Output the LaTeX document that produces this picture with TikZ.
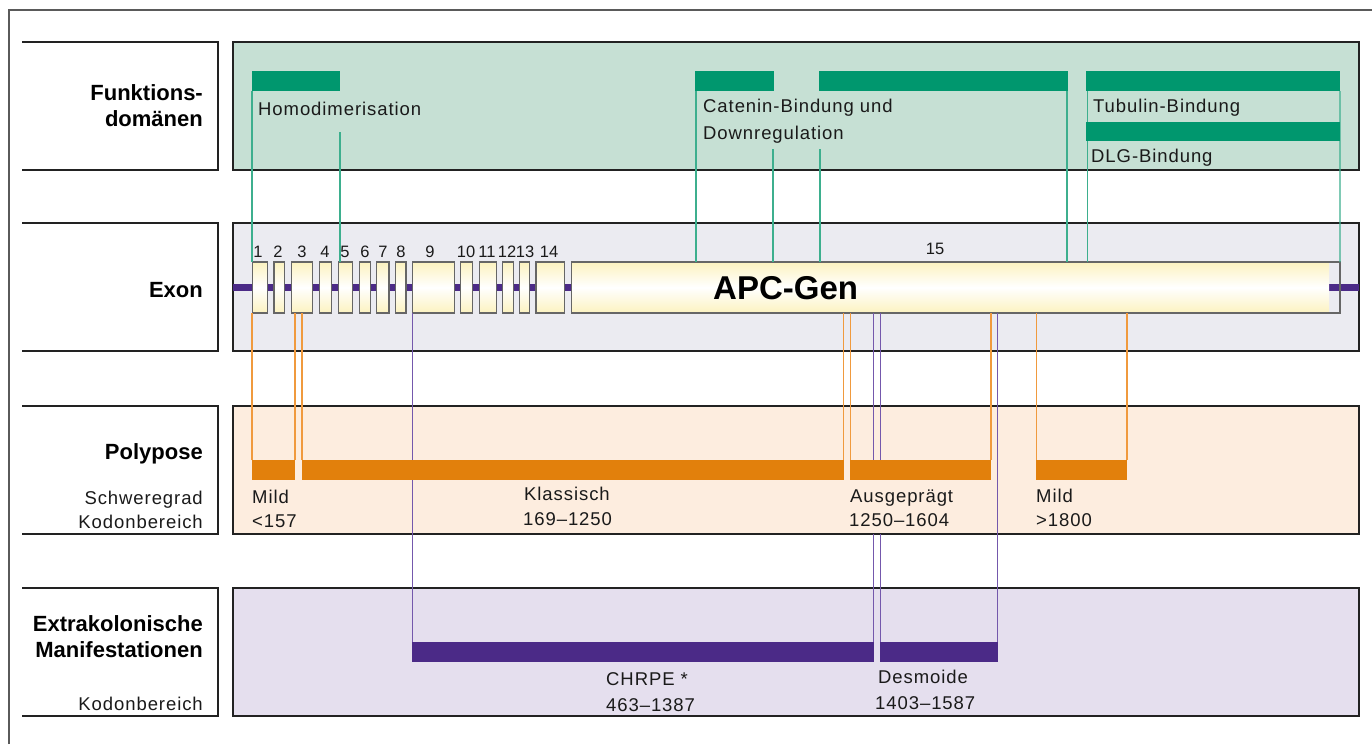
\documentclass[tikz,border=0pt]{standalone}
\usepackage{fontspec}
\setmainfont{Liberation Sans}
\newfontfamily\trk[LetterSpace=5]{Liberation Sans}
\definecolor{framegray}{HTML}{5A5A5A}
\definecolor{boxline}{HTML}{222222}
\definecolor{greenbg}{HTML}{C6E0D4}
\definecolor{greenbar}{HTML}{00976E}
\definecolor{greenline}{HTML}{3DAF8E}
\definecolor{exonbg}{HTML}{EBEBF1}
\definecolor{intron}{HTML}{4B2A87}
\definecolor{cream}{HTML}{FCF2C0}
\definecolor{exonline}{HTML}{666666}
\definecolor{polybg}{HTML}{FDEDDF}
\definecolor{orangebar}{HTML}{E2800C}
\definecolor{orangeline}{HTML}{F09A3E}
\definecolor{extrabg}{HTML}{E5DFEE}
\definecolor{purplebar}{HTML}{4B2A87}
\definecolor{purpleline}{HTML}{7458AC}
\definecolor{txt}{HTML}{1A1A1A}
\newcommand\mkbar[6]{\node[fill=#6, inner sep=0pt, outer sep=0pt, minimum width={(#4-#2)*1pt}, minimum height={(#5-#3)*1pt}, anchor=north west] (#1) at (#2,#3) {};}
\newcommand\mkexon[3]{%
  \node[shade, top color=cream, bottom color=cream, middle color=white, draw=exonline, line width=1.2pt, inner sep=0pt, outer sep=0pt, minimum width={(#3-#2)*1pt}, minimum height=51pt, anchor=north west] (#1) at (#2,262) {};}
\begin{document}
\begin{tikzpicture}[x=1pt,y=-1pt,
  rowbox/.style={draw=boxline, line width=1.2pt, inner sep=0pt, outer sep=0pt, anchor=north west, minimum width=1126pt, minimum height=128pt},
  lbl/.style={font=\trk\fontsize{18.5}{22}\selectfont, text=txt, inner sep=0pt, anchor=base west},
  lblr/.style={lbl, anchor=base east},
  head/.style={font=\bfseries\fontsize{22}{26}\selectfont, text=black, inner sep=0pt, anchor=base east},
  exnum/.style={font=\fontsize{16.5}{18}\selectfont, text=txt, inner sep=0pt, anchor=base},
  gline/.style={draw=greenline, line width=1.3pt},
  oline/.style={draw=orangeline, line width=1.3pt},
  pline/.style={draw=purpleline, line width=1.3pt}]
\useasboundingbox (0,0) rectangle (1372,744);
\fill[white] (0,0) rectangle (1372,744);
% outer frame
\draw[framegray, line width=1.2pt] (9,744) -- (9,10) -- (1372,10);
% left label boxes
\foreach \y in {42,223,406,588}{
  \draw[boxline, line width=1.2pt] (22,\y) -- (218,\y) -- (218,\y+128) -- (22,\y+128);
}
% row boxes
\node[rowbox, fill=greenbg] (fdbox) at (233,42) {};
\node[rowbox, fill=exonbg] (exbox) at (233,223) {};
\node[rowbox, fill=polybg] (pobox) at (233,406) {};
\node[rowbox, fill=extrabg] (ekbox) at (233,588) {};
% left labels
\node[head] (lf1) at (203,100) {Funktions-};
\node[head] (lf2) at (203,126.7) {domänen};
\node[head] (lex) at (203,297) {Exon};
\node[head] (lpo) at (203,459) {Polypose};
\node[lblr] (lsg) at (203,504) {Schweregrad};
\node[lblr] (lkb1) at (203,528) {Kodonbereich};
\node[head] (lek1) at (203,631.7) {Extrakolonische};
\node[head] (lek2) at (203,657.7) {Manifestationen};
\node[lblr] (lkb2) at (203,710) {Kodonbereich};
% intron line
\coordinate (intL) at (233,287.5);
\coordinate (intR) at (1359,287.5);
\draw[intron, line width=7pt] (intL) -- (intR);
% exons
\mkexon{e1}{252.3}{267.3}
\mkexon{e2}{274}{284.7}
\mkexon{e3}{291.3}{312.7}
\mkexon{e4}{319.3}{331.7}
\mkexon{e5}{338.3}{352.7}
\mkexon{e6}{359.3}{370.3}
\mkexon{e7}{376.7}{389}
\mkexon{e8}{395.3}{406}
\mkexon{e9}{412.3}{454.3}
\mkexon{e10}{460.3}{472.7}
\mkexon{e11}{479.3}{496.3}
\mkexon{e12}{502.7}{513.3}
\mkexon{e13}{519.7}{529.7}
\mkexon{e14}{536}{564.7}
\shade[top color=cream, bottom color=cream, middle color=white] (571.3,262) rectangle (1329,313);
\node[draw=exonline, line width=1.2pt, inner sep=0pt, outer sep=0pt, minimum width=768.7pt, minimum height=51pt, anchor=north west] (e15) at (571.3,262) {};
% exon numbers
\foreach \x/\n in {258/1,278/2,302/3,325/4,345/5,365/6,383/7,401/8,430/9,466/10,487/11,507/12,525/13,549/14}{
  \node[exnum] (num\n) at (\x,257.7) {\n};
}
\node[exnum] (num15) at (935,254) {15};
\node[font=\bfseries\fontsize{33}{36}\selectfont, inner sep=0pt, anchor=base west] (apc) at (713,299.3) {APC-Gen};
% green domain bars
\mkbar{hd}{252}{71}{340}{91}{greenbar}
\mkbar{cat1}{695}{71}{774}{91}{greenbar}
\mkbar{cat2}{819}{71}{1068}{91}{greenbar}
\mkbar{tub}{1086}{71}{1340}{91}{greenbar}
% domain labels
\node[lbl] (thd) at (258,115.5) {Homodimerisation};
\node[lbl] (tcat1) at (703,112.7) {Catenin-Bindung und};
\node[lbl] (tcat2) at (703,139) {Downregulation};
\node[lbl] (ttub) at (1093,112.7) {Tubulin-Bindung};
\node[lbl] (tdlg) at (1091,162.7) {DLG-Bindung};
% green connectors
\coordinate (hdB) at (340,132);
\coordinate (catB1) at (773,149);
\coordinate (catB2) at (820,149);
\draw[gline] (hd.south west) -- (hd.south west |- e1.north);
\draw[gline] (hdB) -- (hdB |- e5.north);
\draw[gline] ([xshift=1pt]cat1.south west) -- ([xshift=1pt]cat1.south west |- e15.north);
\draw[gline] (catB1) -- (catB1 |- e15.north);
\draw[gline] (catB2) -- (catB2 |- e15.north);
\draw[gline] ([xshift=-1pt]cat2.south east) -- ([xshift=-1pt]cat2.south east |- e15.north);
\draw[gline] ([xshift=1.5pt]tub.south west) -- ([xshift=1.5pt]tub.south west |- e15.north);
\draw[gline] (tub.south east) -- (e15.north east);
\mkbar{dlg}{1086}{122}{1340}{141}{greenbar}
% polypose bars
\mkbar{pm1}{252}{460}{295}{480}{orangebar}
\mkbar{pm2}{1036}{460}{1127}{480}{orangebar}
% extracolonic bars
\mkbar{chr}{412}{642}{874}{662}{purplebar}
\mkbar{des}{880}{642}{998}{662}{purplebar}
% purple connectors
\coordinate (c9) at (412.7,313);
\coordinate (cA) at (873.5,313);
\coordinate (cB) at (880.5,313);
\coordinate (cC) at (997.7,313);
\coordinate (cA2) at (873.5,534);
\coordinate (cB2) at (880.5,534);
\draw[pline] (c9) -- (c9 |- chr.north);
\draw[pline] (cA) -- (873.5,480);
\draw[pline] (cA2) -- (cA |- chr.north);
\draw[pline] (cB) -- (880.5,480);
\draw[pline] (cB2) -- (cB |- des.north);
\draw[pline] (cC) -- (cC |- des.north);
% orange bars on top of purple lines
\mkbar{pk}{302}{460}{844}{480}{orangebar}
\mkbar{pa}{850}{460}{991}{480}{orangebar}
% orange connectors
\draw[oline] (pm1.north west) -- (pm1.north west |- e1.south);
\draw[oline] (pm1.north east) -- (pm1.north east |- e3.south);
\draw[oline] (pk.north west) -- (pk.north west |- e3.south);
\draw[oline] ([xshift=-0.5pt]pk.north east) -- ([xshift=-0.5pt]pk.north east |- e15.south);
\draw[oline] ([xshift=0.5pt]pa.north west) -- ([xshift=0.5pt]pa.north west |- e15.south);
\draw[oline] (pa.north east) -- (pa.north east |- e15.south);
\draw[oline] ([xshift=0.7pt]pm2.north west) -- ([xshift=0.7pt]pm2.north west |- e15.south);
\draw[oline] (pm2.north east) -- (pm2.north east |- e15.south);
% polypose labels
\node[lbl] (tm1a) at (252,503) {Mild};
\node[lbl] (tm1b) at (252,527.5) {<157};
\node[lbl] (tka) at (524,500) {Klassisch};
\node[lbl] (tkb) at (523,525) {169–1250};
\node[lbl] (taa) at (850,502) {Ausgeprägt};
\node[lbl] (tab) at (849,526.5) {1250–1604};
\node[lbl] (tm2a) at (1036,502.7) {Mild};
\node[lbl] (tm2b) at (1036,526.7) {>1800};
% extracolonic labels
\node[lbl] (tca) at (606,685) {CHRPE *};
\node[lbl] (tcb) at (606,711) {463–1387};
\node[lbl] (tda) at (878,683) {Desmoide};
\node[lbl] (tdb) at (875,709) {1403–1587};
\end{tikzpicture}
\end{document}
